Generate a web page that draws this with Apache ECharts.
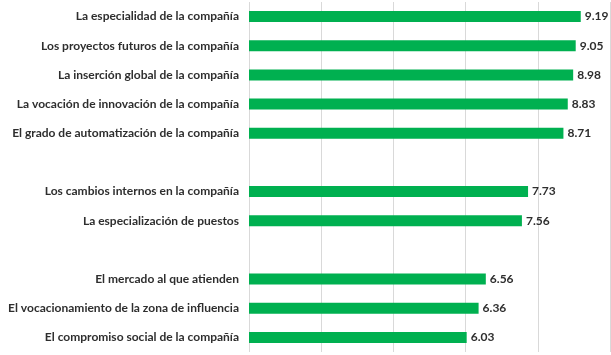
<!DOCTYPE html>
<html><head><meta charset="utf-8">
<script src="https://cdn.jsdelivr.net/npm/echarts@6/dist/echarts.min.js"></script>
<style>html,body{margin:0;padding:0;background:#fff}#c{width:611px;height:355px}</style>
</head><body><div id="c"></div>
<script>
const categories = [
  "La especialidad de la compañía",
  "Los proyectos futuros de la compañía",
  "La inserción global de la compañía",
  "La vocación de innovación de la compañía",
  "El grado de automatización de la compañía",
  " ",
  "Los cambios internos en la compañía",
  "La especialización de puestos",
  "  ",
  "El mercado al que atienden",
  "El vocacionamiento de la zona de influencia",
  "El compromiso social de la compañía"
];
const values = [9.19, 9.05, 8.98, 8.83, 8.71, null, 7.73, 7.56, null, 6.56, 6.36, 6.03];
const xTicks = [0, 2, 4, 6, 8, 10];

const chart = echarts.init(document.getElementById('c'), null, {renderer: 'canvas'});
chart.setOption({
  animation: false,
  grid: {left: 249, right: 1, top: 2, bottom: 3, containLabel: false},
  xAxis: {
    type: 'value', min: xTicks[0], max: xTicks[xTicks.length - 1], interval: 2,
    axisLabel: {show: false}, axisLine: {show: false}, axisTick: {show: false},
    splitLine: {show: true, lineStyle: {color: '#d9d9d9', width: 1}}
  },
  yAxis: {
    type: 'category', data: categories, inverse: true,
    axisLine: {show: false}, axisTick: {show: false},
    axisLabel: {margin: 10, color: '#2e2e2e', fontFamily: 'Lato', fontWeight: 'bold', fontSize: 12}
  },
  series: [{
    type: 'bar', data: values, barWidth: 11,
    itemStyle: {color: '#00b050'},
    label: {show: true, position: 'right', distance: 4, color: '#2e2e2e', fontFamily: 'Lato', fontWeight: 'bold', fontSize: 12,
      formatter: p => p.value.toFixed(2)}
  }]
});
</script></body></html>
